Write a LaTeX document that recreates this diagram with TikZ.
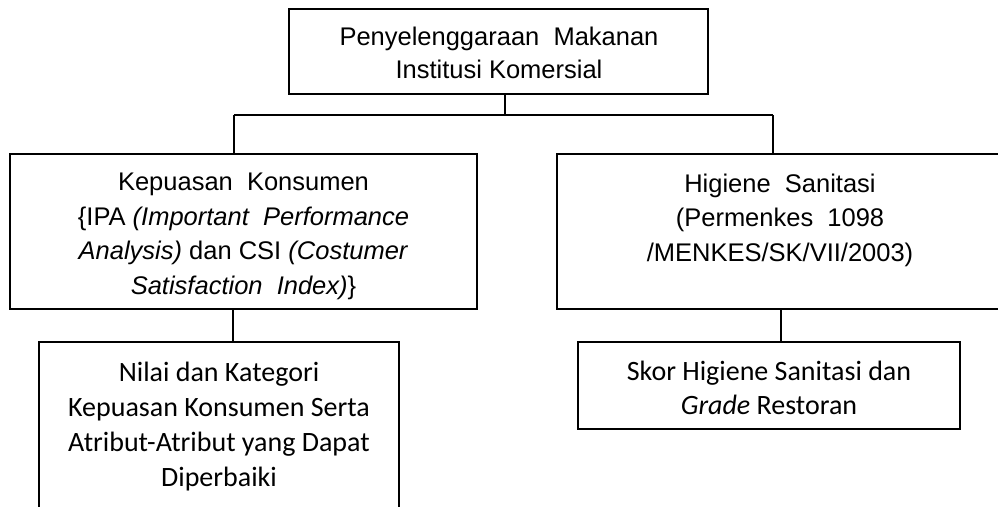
\documentclass[tikz,border=0pt]{standalone}
\usepackage{fontspec}
\setmainfont{Liberation Sans}
\newfontfamily\calfont{Carlito}
\begin{document}
\begin{tikzpicture}[x=1pt,y=-1pt,
  box/.style={draw=black, line width=2pt, inner sep=0pt, outer sep=0pt, anchor=north west},
  arialtxt/.style={inner sep=0pt, align=center, anchor=base, font=\fontsize{25.5}{34.5}\selectfont},
  caltxt/.style={inner sep=0pt, align=center, anchor=base, font=\calfont\fontsize{28}{35}\selectfont},
  link/.style={draw=black, line width=2pt}]
\useasboundingbox (0,0) rectangle (998,506);
\clip (0,0) rectangle (998,506);
% boxes
\node[box, minimum width=419pt, minimum height=85pt] (top) at (289,9) {};
\node[box, minimum width=467pt, minimum height=155pt] (left) at (10,154) {};
\node[box, minimum width=446pt, minimum height=155pt] (right) at (557,154) {};
\node[box, minimum width=360pt, minimum height=190pt] (bl) at (39,342) {};
\node[box, minimum width=382pt, minimum height=87pt] (br) at (578,342) {};
% texts (anchored at the baseline of their last line)
\node[arialtxt, font=\fontsize{25.5}{33}\selectfont] (ttop) at (499,78) {Penyelenggaraan\ \ Makanan\\Institusi Komersial};
\node[arialtxt] (tleft) at (243.5,294) {Kepuasan\ \ Konsumen\\\{IPA \textit{(Important\ \ Performance}\\\textit{Analysis)} dan CSI \textit{(Costumer}\\\textit{Satisfaction\ \ Index)}\}};
\node[arialtxt] (tright) at (780,261) {Higiene\ \ Sanitasi\\(Permenkes\ \ 1098\\/MENKES/SK/VII/2003)};
\node[caltxt] (tbl) at (219,486) {Nilai dan Kategori\\Kepuasan Konsumen Serta\\Atribut-Atribut yang Dapat\\Diperbaiki};
\node[caltxt, font=\calfont\fontsize{28}{34}\selectfont] (tbr) at (769,414) {Skor Higiene Sanitasi dan\\\textit{Grade} Restoran};
% connectors
\coordinate (tj) at (505,115);
\coordinate (lj) at (234,115);
\coordinate (rj) at (773,115);
\coordinate (lb) at (233,342);
\coordinate (rb) at (781,342);
\draw[link] (top.south -| tj) -- (tj);
\draw[link] (lj) -- (rj);
\draw[link] (lj) -- (lj |- left.north);
\draw[link] (rj) -- (rj |- right.north);
\draw[link] (lb |- left.south) -- (bl.north -| lb);
\draw[link] (rb |- right.south) -- (br.north -| rb);
\end{tikzpicture}
\end{document}
